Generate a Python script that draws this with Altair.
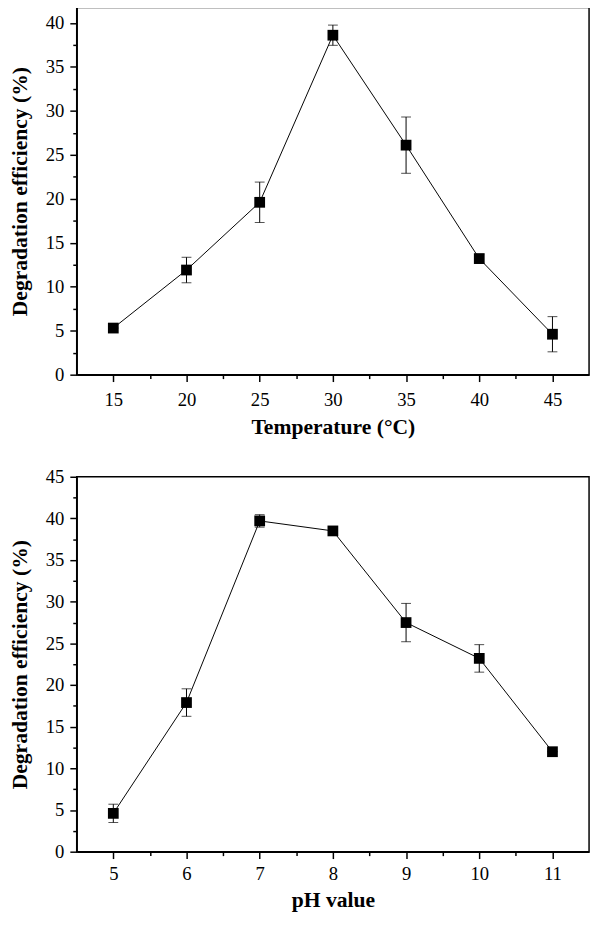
import altair as alt
import pandas as pd

FONT = "Liberation Serif"

# ---- Data ----
temperature = [15, 20, 25, 30, 35, 40, 45]
temp_eff = [5.3, 11.9, 19.6, 38.6, 26.1, 13.2, 4.6]
temp_err = [0.0, 1.45, 2.3, 1.15, 3.2, 0.5, 2.0]

ph_values = [5, 6, 7, 8, 9, 10, 11]
ph_eff = [4.6, 17.9, 39.7, 38.5, 27.5, 23.2, 12.0]
ph_err = [1.1, 1.65, 0.75, 0.0, 2.3, 1.65, 0.0]

# tick values (major + minor)
temp_x_ticks = [15, 17.5, 20, 22.5, 25, 27.5, 30, 32.5, 35, 37.5, 40, 42.5, 45]
temp_y_ticks = [0, 2.5, 5, 7.5, 10, 12.5, 15, 17.5, 20, 22.5, 25, 27.5, 30, 32.5, 35, 37.5, 40]
ph_x_ticks = [5, 5.5, 6, 6.5, 7, 7.5, 8, 8.5, 9, 9.5, 10, 10.5, 11]
ph_y_ticks = [0, 2.5, 5, 7.5, 10, 12.5, 15, 17.5, 20, 22.5, 25, 27.5, 30, 32.5, 35, 37.5, 40, 42.5, 45]


def panel(xs, ys, errs, xdom, ydom, xticks, yticks, xmod, xtitle, height,
          xlabel_pad, xtitle_pad):
    df = pd.DataFrame({
        "x": xs,
        "y": ys,
        "lo": [v - e for v, e in zip(ys, errs)],
        "hi": [v + e for v, e in zip(ys, errs)],
    })
    xscale = alt.Scale(domain=xdom, nice=False, zero=False)
    yscale = alt.Scale(domain=ydom, nice=False, zero=False)
    common = dict(
        labelFont=FONT, titleFont=FONT, labelFontSize=19, titleFontSize=22,
        titleFontWeight="bold", labelColor="black", titleColor="black",
        domainColor="black", domainWidth=1.5, tickColor="black", tickWidth=1.5,
        grid=False,
    )
    xaxis = alt.Axis(
        values=xticks,
        title=xtitle,
        labelExpr=f"datum.value % {xmod} == 0 ? format(datum.value, 'd') : ''",
        tickSize={"condition": {"test": f"datum.value % {xmod} != 0", "value": 4}, "value": 7},
        labelPadding=xlabel_pad,
        titlePadding=xtitle_pad,
        **common,
    )
    yaxis = alt.Axis(
        values=yticks,
        title="Degradation efficiency (%)",
        labelExpr="datum.value % 5 == 0 ? format(datum.value, 'd') : ''",
        tickSize={"condition": {"test": "datum.value % 5 != 0", "value": 4}, "value": 7},
        labelPadding=6,
        titlePadding=14,
        **common,
    )

    def X():
        return alt.X("x:Q", scale=xscale, axis=xaxis)

    def Y(field):
        return alt.Y(f"{field}:Q", scale=yscale, axis=yaxis)

    base = alt.Chart(df)
    line = base.mark_line(color="black", strokeWidth=1).encode(x=X(), y=Y("y"))
    rule = base.mark_rule(color="black", strokeWidth=1).encode(x=X(), y=Y("lo"), y2="hi:Q")
    cap_lo = base.mark_tick(orient="horizontal", size=10, thickness=1, color="black").encode(
        x=X(), y=Y("lo"))
    cap_hi = base.mark_tick(orient="horizontal", size=10, thickness=1, color="black").encode(
        x=X(), y=Y("hi"))
    pts = base.mark_square(size=120, color="black", opacity=1, filled=True).encode(
        x=X(), y=Y("y"))
    return alt.layer(line, rule, cap_lo, cap_hi, pts).properties(width=522, height=height)


top = panel(temperature, temp_eff, temp_err, [12.5, 47.5], [0, 41.74],
            temp_x_ticks, temp_y_ticks, 5, "Temperature (\u00b0C)", 374, 9, 8)
bottom = panel(ph_values, ph_eff, ph_err, [4.5, 11.5], [0, 45],
               ph_x_ticks, ph_y_ticks, 1, "pH value", 382, 6, 7)

chart = (
    alt.vconcat(top, bottom, spacing=104, bounds="flush")
    .properties(padding={"left": 0, "top": -10, "right": 2, "bottom": 0})
    .configure(font=FONT)
    .configure_view(stroke="black", strokeWidth=1.5)
    .configure_axis(grid=False, labelFont=FONT, titleFont=FONT)
)

chart.save("out.html", embed_options={"renderer": "svg", "actions": False})
